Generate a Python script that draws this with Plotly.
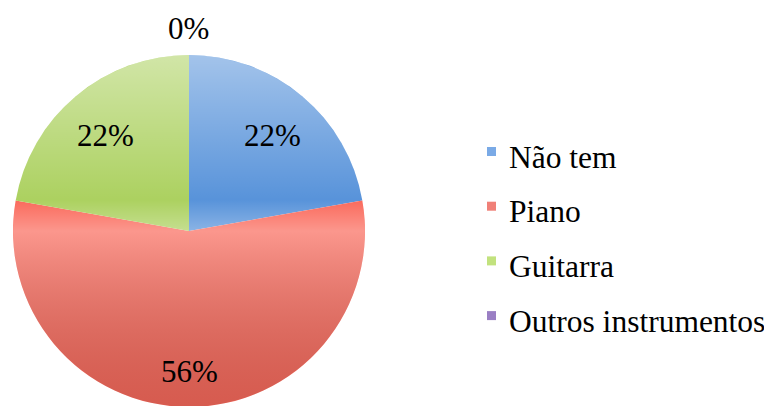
import math
import base64
import plotly.graph_objects as go

labels = ["Não tem", "Piano", "Guitarra", "Outros instrumentos"]
values = [2, 5, 2, 0]
colors = ["#5893da", "#fa6a5c", "#acd160", "#9a7fc4"]

W, H = 772, 406
FONT = "Liberation Serif, Times New Roman, Times, serif"
OFF = 8  # page body margin of the rendered html

# pie geometry in screen pixels
CX, CY, R = 189, 231, 176
cx, cy = CX - OFF, CY - OFF

fig = go.Figure()
fig.add_trace(go.Pie(
    labels=labels, values=values, sort=False, direction="clockwise",
    marker=dict(colors=colors, line=dict(width=0)),
    textinfo="none", hoverinfo="skip", showlegend=False, automargin=False,
    domain=dict(x=[(cx - R) / W, (cx + R) / W], y=[(H - cy - R) / H, (H - cy + R) / H]),
))

# soft vertical shading over the pie (style only)
def stop(f, col, a):
    return f'<stop offset="{f:.4f}" stop-color="{col}" stop-opacity="{a}"/>'

f200 = (200 - (CY - R)) / (2 * R)
svg = (
    '<svg xmlns="http://www.w3.org/2000/svg" viewBox="0 0 100 100" preserveAspectRatio="none">'
    '<defs><linearGradient id="g" x1="0" y1="0" x2="0" y2="1">'
    + stop(0, "white", 0.45)
    + stop(f200, "white", 0.0)
    + stop(0.5, "white", 0.3)
    + stop(1, "black", 0.14)
    + '</linearGradient></defs>'
    '<circle cx="50" cy="50" r="50" fill="url(#g)"/></svg>'
)
src = "data:image/svg+xml;base64," + base64.b64encode(svg.encode()).decode()
fig.add_layout_image(source=src, xref="paper", yref="paper",
                     x=(cx - R) / W, y=1 - (cy - R) / H, sizex=2 * R / W, sizey=2 * R / H,
                     xanchor="left", yanchor="top", sizing="stretch", layer="above")

# percentage labels placed from the data (angles of each slice)
total = sum(values)
cum = 0
for lab, v in zip(labels, values):
    pct = v / total
    mid = (cum + pct / 2) * 2 * math.pi
    cum += pct
    if v == 0:
        r = R + 27
    elif pct > 0.5:
        r = 0.8 * R
    else:
        r = 0.74 * R
    x = cx + r * math.sin(mid)
    y = cy - r * math.cos(mid) + (4 if 0 < pct <= 0.5 else 0)
    fig.add_annotation(text=f"{round(pct * 100)}%", xref="paper", yref="paper",
                       x=x / W, y=1 - y / H, xanchor="center", yanchor="middle",
                       showarrow=False, font=dict(family=FONT, size=31, color="black"))

# legend
leg_x_sq = 487 - OFF
leg_x_txt = 507 - OFF
leg_y0 = 157 - OFF
leg_dy = 54.7
leg_colors = ["#7aaae6", "#f08078", "#c2e27e", "#9a7fc4"]
for i, (lab, col) in enumerate(zip(labels, leg_colors)):
    yc = leg_y0 + i * leg_dy
    fig.add_shape(type="rect", xref="paper", yref="paper",
                  x0=leg_x_sq / W, x1=(leg_x_sq + 9) / W,
                  y0=1 - (yc - 1) / H, y1=1 - (yc - 10) / H,
                  fillcolor=col, line=dict(width=0))
    fig.add_annotation(text=lab, xref="paper", yref="paper",
                       x=leg_x_txt / W, y=1 - yc / H, xanchor="left", yanchor="middle",
                       showarrow=False, font=dict(family=FONT, size=31.5, color="black"))

fig.update_layout(width=W, height=H, margin=dict(l=0, r=0, t=0, b=0),
                  paper_bgcolor="white", plot_bgcolor="white",
                  font=dict(family=FONT))
fig.write_html("out.html")
